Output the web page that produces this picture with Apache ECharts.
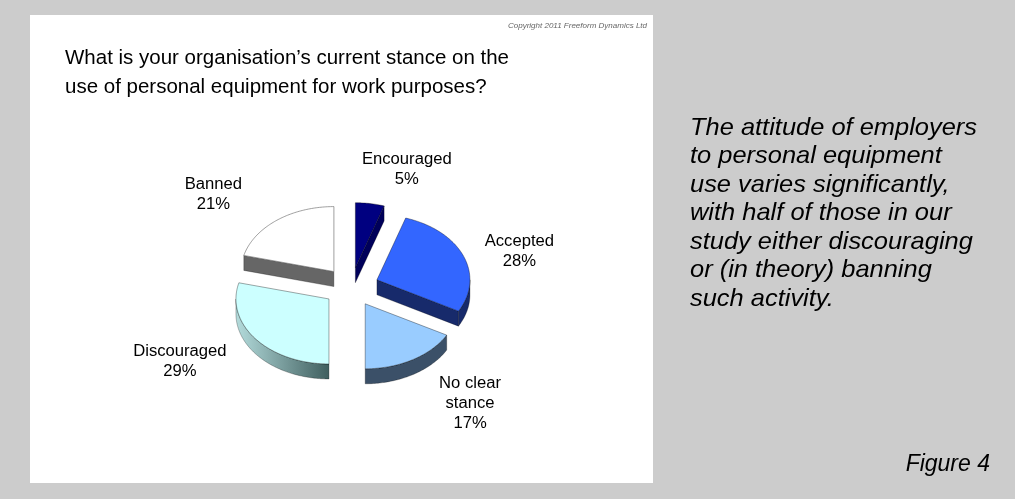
<!DOCTYPE html>
<html>
<head>
<meta charset="utf-8">
<title>Personal equipment stance</title>
<script src="https://cdn.jsdelivr.net/npm/echarts@6/dist/echarts.min.js"></script>
<style>
  html, body { margin: 0; padding: 0; background: #cccccc; }
  #chart { width: 1015px; height: 499px; }
</style>
</head>
<body>
<div id="chart"></div>
<script>
// Survey answers, clockwise from 12 o'clock
const categories = ['Encouraged', 'Accepted', 'No clear stance', 'Discouraged', 'Banned'];
const shares = [5, 28, 17, 29, 21];
const labelNames = ['Encouraged', 'Accepted', 'No clear\nstance', 'Discouraged', 'Banned'];

// Slice styling
const topColors = ['#000080', '#3366ff', '#99ccff', '#ccffff', '#ffffff'];
const sideColors = ['#00005a', '#172a6b', '#3b5068', null, '#666666'];

// Label anchors in pie units (1 = radius), relative to the pie centre
const labelAnchors = [[0.60, -1.80], [1.81, -0.54], [1.28, 1.80], [-1.84, 1.14], [-1.48, -1.42]];

const titleLines = [
  'What is your organisation\u2019s current stance on the',
  'use of personal equipment for work purposes?'
];
const noteLines = [
  'The attitude of employers',
  'to personal equipment',
  'use varies significantly,',
  'with half of those in our',
  'study either discouraging',
  'or (in theory) banning',
  'such activity.'
];

const FONT = '"Liberation Sans", Arial, Helvetica, sans-serif';
const EXPLODE = 0.30;      // slice pull-out, in radius units
const DEPTH = 15 / 65;     // pie thickness, in vertical radius units

// Start / end angles (radians, clockwise from top) from the shares
const total = shares.reduce((a, b) => a + b, 0);
const angles = [];
let acc = 0;
shares.forEach(v => {
  const a0 = acc / total * Math.PI * 2;
  acc += v;
  angles.push([a0, acc / total * Math.PI * 2]);
});

function sliceCentre(i) {
  const m = (angles[i][0] + angles[i][1]) / 2;
  return [EXPLODE * Math.sin(m), -EXPLODE * Math.cos(m)];
}
function rim(api, c, t, dz) {
  return api.coord([c[0] + Math.sin(t), c[1] - Math.cos(t) + dz]);
}
function arc(api, c, s, e, dz) {
  const pts = [];
  const n = Math.max(2, Math.ceil((e - s) / (Math.PI / 180)));
  for (let k = 0; k <= n; k++) pts.push(rim(api, c, s + (e - s) * k / n, dz));
  return pts;
}

function renderWalls(params, api) {
  const i = params.dataIndex;
  const [a0, a1] = angles[i];
  const c = sliceCentre(i);
  const children = [];
  const fill = i === 3
    ? { type: 'linear', x: 0, y: 0, x2: 1, y2: 0,
        colorStops: [{ offset: 0, color: '#b4dcdc' }, { offset: 1, color: '#3f5e5e' }] }
    : sideColors[i];
  const stroke = 'rgba(0,0,0,0.45)';
  // radial faces turned towards the viewer
  const face = t => {
    const ct = api.coord([c[0], c[1]]);
    const cb = api.coord([c[0], c[1] + DEPTH]);
    children.push({
      type: 'polygon',
      shape: { points: [ct, rim(api, c, t, 0), rim(api, c, t, DEPTH), cb] },
      style: { fill: sideColors[i] || '#5a7a7a', stroke: stroke, lineWidth: 0.6 }
    });
  };
  if (Math.sin(a0) < -1e-6) face(a0);
  if (Math.sin(a1) > 1e-6) face(a1);
  // outer rim on the front half
  const s = Math.max(a0, Math.PI / 2);
  const e = Math.min(a1, Math.PI * 1.5);
  if (e > s) {
    const top = arc(api, c, s, e, 0);
    const bottom = arc(api, c, s, e, DEPTH).reverse();
    children.push({
      type: 'polygon',
      shape: { points: top.concat(bottom) },
      style: { fill: fill, stroke: stroke, lineWidth: 0.6 }
    });
  }
  return { type: 'group', children: children };
}

function renderTops(params, api) {
  const i = params.dataIndex;
  const [a0, a1] = angles[i];
  const c = sliceCentre(i);
  const pts = [api.coord([c[0], c[1]])].concat(arc(api, c, a0, a1, 0));
  const lp = api.coord(labelAnchors[i]);
  return {
    type: 'group',
    children: [
      {
        type: 'polygon',
        shape: { points: pts },
        style: { fill: topColors[i], stroke: i === 4 ? '#777777' : 'rgba(0,0,0,0.5)', lineWidth: 0.7 }
      },
      {
        type: 'text',
        x: lp[0], y: lp[1],
        scaleX: 1.04,
        style: {
          text: labelNames[i] + '\n' + shares[i] + '%',
          fontSize: 16, fontFamily: FONT, fill: '#000000',
          align: 'center', verticalAlign: 'middle', lineHeight: 20
        }
      }
    ]
  };
}

const chart = echarts.init(document.getElementById('chart'), null, { renderer: 'canvas' });
const sliceData = shares.map((v, i) => ({ name: categories[i], value: [i, v] }));

chart.setOption({
  backgroundColor: '#cccccc',
  animation: false,
  grid: { left: 165, top: 157, width: 372, height: 260 },
  xAxis: { type: 'value', min: -2, max: 2, show: false },
  yAxis: { type: 'value', min: -2, max: 2, inverse: true, show: false },
  graphic: [
    { type: 'rect', z: -10, shape: { x: 30, y: 15, width: 623, height: 468 }, style: { fill: '#ffffff' } },
    { type: 'text', x: 647, y: 26, style: {
        text: 'Copyright 2011 Freeform Dynamics Ltd', fontSize: 8, fontStyle: 'italic',
        fontFamily: FONT, fill: '#666666', align: 'right', verticalAlign: 'middle' } },
    { type: 'text', x: 65, y: 44, style: {
        text: titleLines.join('\n'), fontSize: 20.5, fontFamily: FONT, fill: '#000000',
        lineHeight: 29, verticalAlign: 'top' } },
    { type: 'text', x: 690, y: 114, scaleX: 1.06, style: {
        text: noteLines.join('\n'), fontSize: 24, fontStyle: 'italic', fontFamily: FONT,
        fill: '#000000', lineHeight: 28.5, verticalAlign: 'top' } },
    { type: 'text', x: 990, y: 465, style: {
        text: 'Figure 4', fontSize: 23, fontStyle: 'italic', fontFamily: FONT,
        fill: '#000000', align: 'right', verticalAlign: 'middle' } }
  ],
  series: [
    { type: 'custom', name: 'sides', renderItem: renderWalls, data: sliceData, clip: false, silent: true },
    { type: 'custom', name: 'tops', renderItem: renderTops, data: sliceData, clip: false, silent: true }
  ]
});
</script>
</body>
</html>
